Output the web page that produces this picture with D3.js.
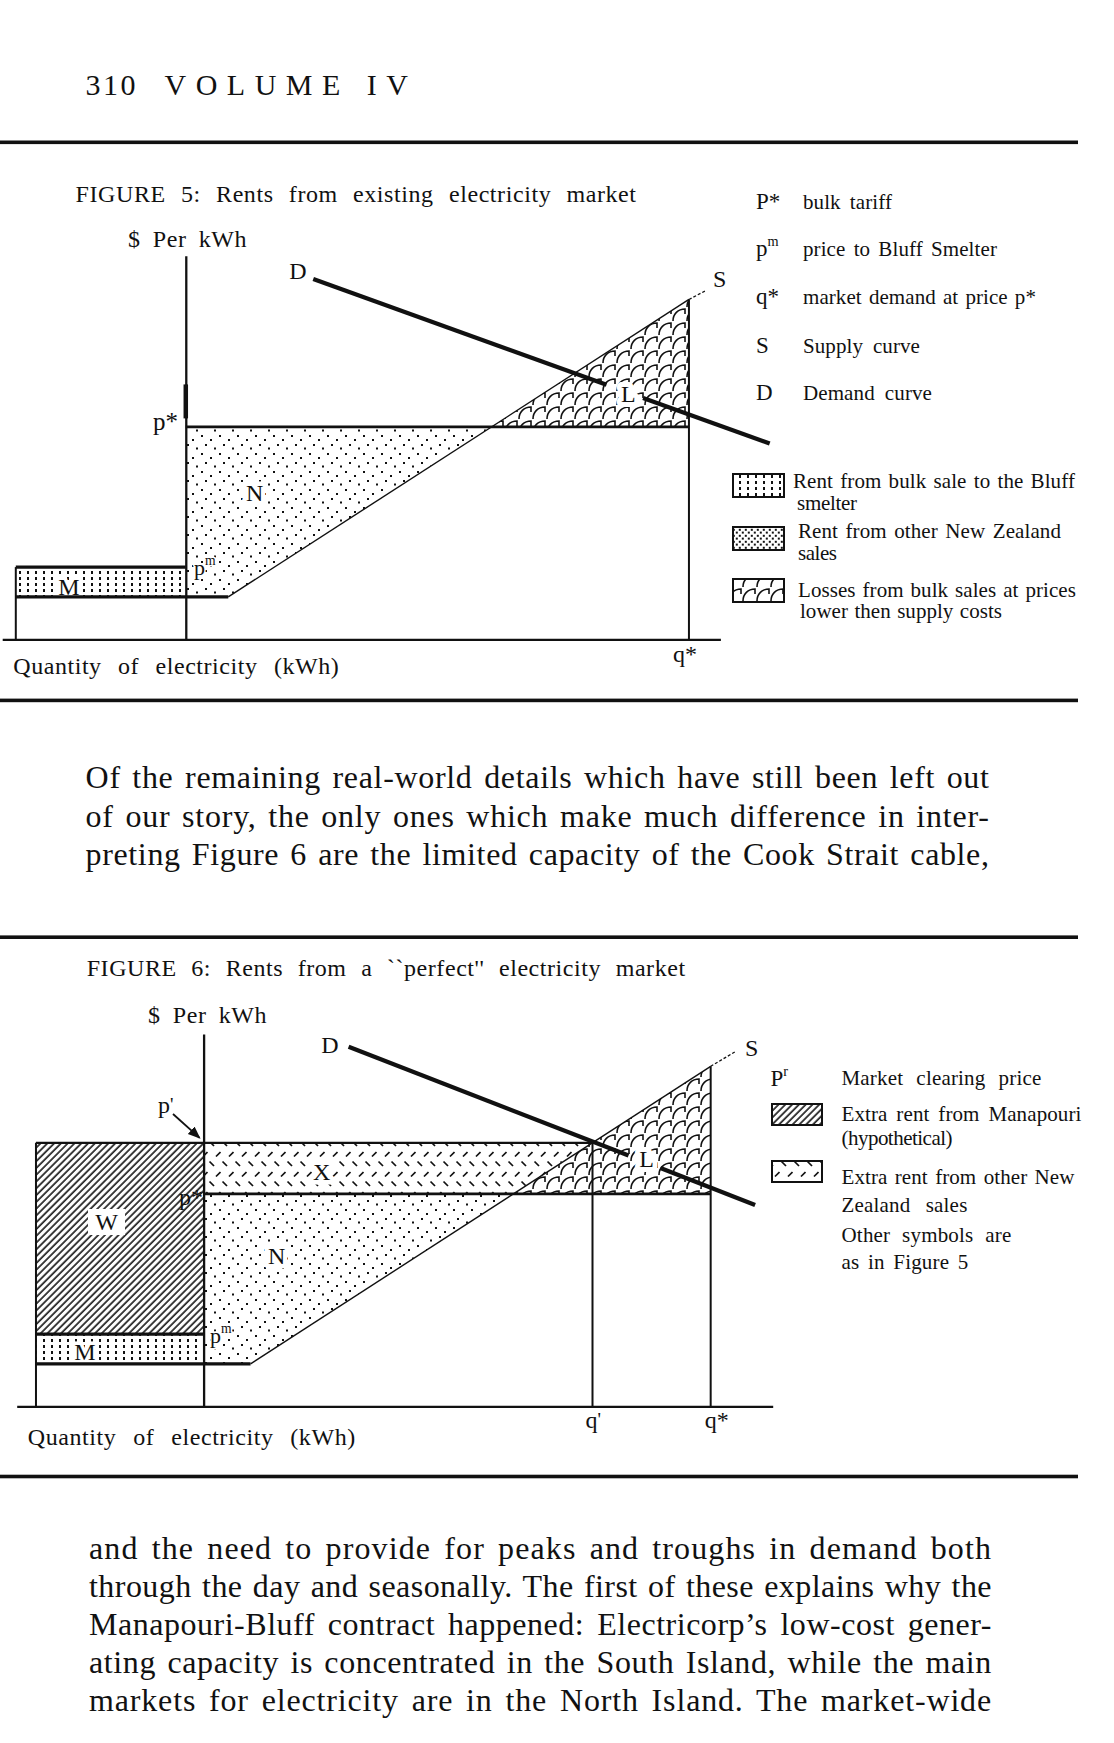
<!DOCTYPE html>
<html>
<head>
<meta charset="utf-8">
<script src="https://cdn.jsdelivr.net/npm/d3@7"></script>
<style>
  html, body { margin: 0; padding: 0; background: #fff; }
  svg text { font-family: "Liberation Serif", "DejaVu Serif", serif; fill: #111; }
</style>
</head>
<body>
<div id="page"></div>
<script>
const width = 1114, height = 1743;
const ink = '#111';

// ---------- page text ----------
const header = ['310', 'VOLUME IV'];
const para1 = [
  'Of the remaining real-world details which have still been left out',
  'of our story, the only ones which make much difference in inter-',
  'preting Figure 6 are the limited capacity of the Cook Strait cable,'
];
const para2 = [
  'and the need to provide for peaks and troughs in demand both',
  'through the day and seasonally. The first of these explains why the',
  'Manapouri-Bluff contract happened: Electricorp\u2019s low-cost gener-',
  'ating capacity is concentrated in the South Island, while the main',
  'markets for electricity are in the North Island. The market-wide'
];

// ---------- figure 5 values (quantity, price in diagram units) ----------
const fig5Title = 'FIGURE 5: Rents from existing electricity market';
const fig5QDomain = [-1.6, 82.9];
const fig5PDomain = [0, 90.3];
const fig5Bluff = [0, 20];              // smelter quantity: left edge, price axis
const fig5Prices = [10, 17, 50];        // p^m base, top of M, p*
const fig5QStar = 79.2;
const fig5Supply = [[25, 10], [79.2, 80]];
const fig5SupplyExt = [[79.2, 80], [81.1, 82]];
const fig5Demand = [[[35, 84.8], [69.5, 59.9]], [[73.8, 56.8], [88.7, 46.1]]];
const fig5Symbols = [['P*', ''], ['p', 'm'], ['q*', ''], ['S', ''], ['D', '']];
const fig5SymbolText = ['bulk tariff', 'price to Bluff Smelter', 'market demand at price p*', 'Supply curve', 'Demand curve'];
const fig5Keys = [
  ['Rent from bulk sale to the Bluff', 'smelter'],
  ['Rent from other New Zealand', 'sales'],
  ['Losses from bulk sales at prices', 'lower then supply costs']
];

// ---------- figure 6 values ----------
const fig6Title = 'FIGURE 6: Rents from a ``perfect\'\' electricity market';
const fig6QDomain = [-2.3, 87.9];
const fig6PDomain = [0, 87.6];
const fig6Bluff = [0, 20];
const fig6Prices = [10, 17, 50, 62];    // p^m base, top of M, p*, p'
const fig6QStar = 80.5;
const fig6QPrime = 66.4;
const fig6Supply = [[25.6, 10], [80.5, 80]];
const fig6SupplyExt = [[80.5, 80], [83.4, 83.4]];
const fig6Demand = [[[37.3, 84.6], [70.7, 59.0]], [[74.5, 56.1], [85.8, 47.4]]];
const fig6Keys = [
  ['Extra rent from Manapouri', '(hypothetical)'],
  ['Extra rent from other New', 'Zealand sales']
];
const fig6Notes = ['Other symbols are', 'as in Figure 5'];

const svg = d3.select('#page').append('svg')
  .attr('width', width)
  .attr('height', height);

svg.append('rect').attr('width', width).attr('height', height).attr('fill', '#fff');

// ---------- fill patterns ----------
const defs = svg.append('defs');

function pattern(id, w, h, draw, transform) {
  const p = defs.append('pattern')
    .attr('id', id)
    .attr('patternUnits', 'userSpaceOnUse')
    .attr('width', w)
    .attr('height', h);
  if (transform) p.attr('patternTransform', transform);
  p.append('rect').attr('width', w).attr('height', h).attr('fill', '#fff');
  draw(p);
}

function dot(p, x, y, s) {
  p.append('rect').attr('x', x).attr('y', y).attr('width', s).attr('height', s).attr('fill', ink);
}

// N: loose stipple
pattern('dots', 18, 18, p => {
  dot(p, 3, 3, 2); dot(p, 12, 7, 2); dot(p, 7, 12, 2); dot(p, 16, 15.5, 2);
});
// legend: dense stipple
pattern('dotsDense', 6, 6, p => {
  dot(p, 0.8, 0.8, 2); dot(p, 3.8, 3.6, 2);
});
// M: columns of short dashes
pattern('bulk', 8, 6, p => {
  p.append('rect').attr('x', 3).attr('y', 1).attr('width', 2).attr('height', 3).attr('fill', ink);
});
// W: diagonal hatch
pattern('hatch', 4.8, 10, p => {
  p.append('line').attr('x1', 2).attr('y1', 0).attr('x2', 2).attr('y2', 10)
    .attr('stroke', ink).attr('stroke-width', 1.6);
}, 'rotate(45)');
// X: small alternating ticks
pattern('ticks', 13, 20, p => {
  p.append('line').attr('x1', 1.5).attr('y1', 1.5).attr('x2', 6).attr('y2', 6)
    .attr('stroke', ink).attr('stroke-width', 1.7);
  p.append('line').attr('x1', 8).attr('y1', 16.5).attr('x2', 12.5).attr('y2', 12)
    .attr('stroke', ink).attr('stroke-width', 1.7);
});
// L: scale-like hooks
pattern('scales', 14, 14, p => {
  p.append('path').attr('d', 'M1,13 C1,6 6,1 13,1 L13,6')
    .attr('fill', 'none').attr('stroke', ink).attr('stroke-width', 1.6);
});

defs.append('marker')
  .attr('id', 'arrow')
  .attr('viewBox', '0 0 10 10')
  .attr('refX', 9).attr('refY', 5)
  .attr('markerWidth', 7).attr('markerHeight', 7)
  .attr('orient', 'auto')
  .append('path').attr('d', 'M0,1 L10,5 L0,9 Z').attr('fill', ink);

// ---------- helpers ----------
// stretch a line of text to a width: part of the slack goes between letters, the rest between words
function justify(t, target, share) {
  const s = t.text();
  const natural = t.node().getComputedTextLength();
  const spaces = (s.match(/ /g) || []).length;
  const extra = target - natural;
  if (!spaces) {
    t.attr('textLength', target).attr('lengthAdjust', 'spacing');
    return t;
  }
  const ls = extra * share / s.length;
  t.attr('letter-spacing', ls.toFixed(3));
  t.attr('word-spacing', ((extra - ls * s.length) / spaces).toFixed(3));
  return t;
}

function txt(parent, x, y, s, size, opts = {}) {
  const t = parent.append('text')
    .attr('x', x).attr('y', y)
    .attr('font-size', size)
    .text(s);
  if (opts.anchor) t.attr('text-anchor', opts.anchor);
  if (opts.halo) t.attr('stroke', '#fff').attr('stroke-width', opts.halo)
    .attr('stroke-linejoin', 'round').attr('paint-order', 'stroke');
  if (opts.spread) t.attr('textLength', opts.spread).attr('lengthAdjust', 'spacing');
  if (opts.len) justify(t, opts.len, opts.share === undefined ? 0.5 : opts.share);
  return t;
}

function supTxt(parent, x, y, base, sup, size, opts = {}) {
  const t = parent.append('text')
    .attr('x', x).attr('y', y)
    .attr('font-size', size);
  if (opts.anchor) t.attr('text-anchor', opts.anchor);
  if (opts.halo) t.attr('stroke', '#fff').attr('stroke-width', opts.halo)
    .attr('stroke-linejoin', 'round').attr('paint-order', 'stroke');
  t.append('tspan').text(base);
  if (sup) t.append('tspan')
    .attr('dy', -size * (opts.supRise === undefined ? 0.45 : opts.supRise))
    .attr('font-size', size * (opts.supSize || 0.62))
    .text(sup);
  return t;
}

function rule(y) {
  svg.append('rect').attr('x', 0).attr('y', y - 1.8).attr('width', 1078).attr('height', 3.6).attr('fill', ink);
}

// ---------- page furniture ----------
txt(svg, 85.6, 95, header[0], 30, { spread: 50 });
txt(svg, 164.5, 95, header[1], 30, { spread: 243.5 });
[142.3, 700.4, 937.2, 1476.5].forEach(rule);

para1.forEach((s, i) => txt(svg, 85.6, 788 + i * 38.5, s, 32, { len: 904, share: 0.6 }));
para2.forEach((s, i) => txt(svg, 89, 1559 + i * 38.1, s, 32, { len: 903, share: 0.6 }));

// ---------- diagram ----------
function drawFigure(cfg) {
  const x = d3.scaleLinear().domain(cfg.qDomain).range(cfg.xRange);
  const y = d3.scaleLinear().domain(cfg.pDomain).range(cfg.yRange);
  const line = d3.line().x(d => x(d[0])).y(d => y(d[1]));
  // supply curve read as price -> quantity
  const sQ = d3.scaleLinear()
    .domain(cfg.supply.map(d => d[1]))
    .range(cfg.supply.map(d => d[0]));

  const g = svg.append('g');
  const [pm, mTop, pStar, pPrime] = cfg.prices;
  const [q0, qAxis] = cfg.bluff;

  // shaded regions
  const regions = [
    { pts: [[q0, pm], [qAxis, pm], [qAxis, mTop], [q0, mTop]], fill: 'bulk' },
    { pts: [[qAxis, pStar], [sQ(pStar), pStar], cfg.supply[0], [qAxis, pm]], fill: 'dots' },
    { pts: [[sQ(pStar), pStar], [cfg.qStar, sQ.invert(cfg.qStar)], [cfg.qStar, pStar]], fill: 'scales' }
  ];
  if (pPrime !== undefined) {
    regions.push({ pts: [[q0, mTop], [qAxis, mTop], [qAxis, pPrime], [q0, pPrime]], fill: 'hatch' });
    regions.push({ pts: [[qAxis, pStar], [qAxis, pPrime], [sQ(pPrime), pPrime], [sQ(pStar), pStar]], fill: 'ticks' });
  }
  g.selectAll('path.region')
    .data(regions)
    .enter().append('path')
      .attr('class', 'region')
      .attr('d', d => line(d.pts) + 'Z')
      .attr('fill', d => `url(#${d.fill})`)
      .attr('stroke', 'none');

  // labels (their white halos only clear the fills)
  cfg.labels(g, x, y);

  // axes (no ticks, just the lines)
  const xAxisGroup = g.append('g')
    .attr('transform', `translate(0, ${y(0)})`)
    .call(d3.axisBottom(x).tickValues([]).tickSizeOuter(0));
  const yAxisGroup = g.append('g')
    .attr('transform', `translate(${x(qAxis)}, 0)`)
    .call(d3.axisLeft(y).tickValues([]).tickSizeOuter(0));
  [xAxisGroup, yAxisGroup].forEach(a => a.select('.domain')
    .attr('stroke', ink).attr('stroke-width', 2.3));

  // guide lines
  const guides = [
    { pts: [[q0, 0], [q0, pPrime !== undefined ? pPrime : mTop]], w: 2 },
    { pts: [[cfg.qStar, 0], [cfg.qStar, sQ.invert(cfg.qStar)]], w: 2 },
    { pts: [[qAxis, pStar], [cfg.qStar, pStar]], w: 2.6 },
    { pts: [[q0, mTop], [qAxis, mTop]], w: 3.2 },
    { pts: [[q0, pm], [cfg.supply[0][0], pm]], w: 3.2 },
    { pts: cfg.supply, w: 1.4 }
  ];
  if (pPrime !== undefined) {
    guides.push({ pts: [[q0, pPrime], [cfg.qPrime, pPrime]], w: 2.2 });
    guides.push({ pts: [[cfg.qPrime, 0], [cfg.qPrime, pPrime]], w: 2 });
  }
  if (cfg.axisMark) guides.push({ pts: cfg.axisMark, w: 4.5 });
  g.selectAll('path.guide')
    .data(guides)
    .enter().append('path')
      .attr('class', 'guide')
      .attr('d', d => line(d.pts))
      .attr('fill', 'none')
      .attr('stroke', ink)
      .attr('stroke-width', d => d.w);

  g.append('path')
    .attr('d', line(cfg.supplyExt))
    .attr('fill', 'none').attr('stroke', ink)
    .attr('stroke-width', 1.3).attr('stroke-dasharray', '3,2');

  if (cfg.overlay) cfg.overlay(g, x, y);

  // demand curve, broken around the L label
  g.selectAll('path.demand')
    .data(cfg.demand)
    .enter().append('path')
      .attr('class', 'demand')
      .attr('d', line)
      .attr('fill', 'none')
      .attr('stroke', ink)
      .attr('stroke-width', 4.3)
      .attr('stroke-linecap', 'butt');

  return { x, y };
}

// ---------- Figure 5 ----------
txt(svg, 75.6, 202, fig5Title, 24, { len: 561, share: 0.35 });

drawFigure({
  qDomain: fig5QDomain, pDomain: fig5PDomain,
  xRange: [2.2, 720.4], yRange: [639.3, 255.7],
  bluff: fig5Bluff, prices: fig5Prices, qStar: fig5QStar,
  supply: fig5Supply, supplyExt: fig5SupplyExt, demand: fig5Demand,
  axisMark: [[20, 52], [20, 60]],
  labels: (g, x, y) => {
    txt(g, 128, 246.5, '$ Per kWh', 24, { len: 119, share: 0.3 });
    txt(g, 298, 279, 'D', 24, { anchor: 'middle' });
    txt(g, 713, 287, 'S', 24);
    txt(g, 178, 430, 'p*', 25, { anchor: 'end' });
    txt(g, 254.6, 501, 'N', 24, { anchor: 'middle', halo: 9 });
    txt(g, 628.3, 402, 'L', 24, { anchor: 'middle', halo: 10 });
    txt(g, 69, 595, 'M', 24, { anchor: 'middle', halo: 7 });
    supTxt(g, 194, 575, 'p', 'm', 22, { halo: 3 });
    txt(g, 13.3, 674, 'Quantity of electricity (kWh)', 24, { len: 326, share: 0.35 });
    txt(g, x(fig5QStar) - 16, 662, 'q*', 24);
  }
});

// figure 5 legend
const fig5SymbolY = [209, 256, 304, 353, 400];
const fig5SymbolLen = [89, 194, 233, 117, 129];
fig5Symbols.forEach((s, i) => {
  supTxt(svg, 756, fig5SymbolY[i], s[0], s[1], 23);
  txt(svg, 803, fig5SymbolY[i], fig5SymbolText[i], 21, { len: fig5SymbolLen[i], share: 0.2 });
});

const fig5KeyTop = [474, 527, 579];
const fig5KeyFill = ['bulk', 'dotsDense', 'scales'];
const fig5KeyBase = [[488, 510], [538, 560], [597, 618]];
const fig5KeyX = [[793, 797], [798, 798], [798, 800]];
const fig5KeyLen = [[282, 60], [263, 39], [278, 202]];
fig5Keys.forEach((k, i) => {
  svg.append('rect')
    .attr('x', 733).attr('y', fig5KeyTop[i])
    .attr('width', 51).attr('height', 23)
    .attr('fill', `url(#${fig5KeyFill[i]})`)
    .attr('stroke', ink).attr('stroke-width', 2);
  k.forEach((s, j) => txt(svg, fig5KeyX[i][j], fig5KeyBase[i][j], s, 21, { len: fig5KeyLen[i][j], share: 0.2 }));
});

// ---------- Figure 6 ----------
txt(svg, 86.7, 976, fig6Title, 24, { len: 599, share: 0.35 });

drawFigure({
  qDomain: fig6QDomain, pDomain: fig6PDomain,
  xRange: [16.7, 772.7], yRange: [1406.4, 1034],
  bluff: fig6Bluff, prices: fig6Prices, qStar: fig6QStar, qPrime: fig6QPrime,
  supply: fig6Supply, supplyExt: fig6SupplyExt, demand: fig6Demand,
  labels: (g, x, y) => {
    txt(g, 148, 1022.5, '$ Per kWh', 24, { len: 119, share: 0.3 });
    txt(g, 330, 1053, 'D', 24, { anchor: 'middle' });
    txt(g, 745, 1056, 'S', 24);
    supTxt(g, 158, 1113, 'p', '\'', 24, { supSize: 0.8, supRise: 0.1 });
    g.append('rect').attr('x', 88).attr('y', 1209).attr('width', 37).attr('height', 26).attr('fill', '#fff');
    txt(g, 106.7, 1230, 'W', 24, { anchor: 'middle' });
    txt(g, 321.7, 1180, 'X', 24, { anchor: 'middle', halo: 9 });
    txt(g, 276.7, 1264, 'N', 24, { anchor: 'middle', halo: 9 });
    txt(g, 646.7, 1167, 'L', 24, { anchor: 'middle', halo: 10 });
    txt(g, 85, 1360, 'M', 24, { anchor: 'middle', halo: 7 });
    supTxt(g, 210, 1343, 'p', 'm', 22, { halo: 3 });
    txt(g, 27.8, 1445, 'Quantity of electricity (kWh)', 24, { len: 328, share: 0.35 });
    supTxt(g, x(fig6QPrime) - 7, 1428, 'q', '\'', 24, { supSize: 0.8, supRise: 0.1 });
    txt(g, x(fig6QStar) - 6, 1428, 'q*', 24);
  },
  overlay: (g, x, y) => {
    txt(g, 203, 1205, 'p*', 24, { anchor: 'end' });
    g.append('line')
      .attr('x1', 173).attr('y1', 1114)
      .attr('x2', x(fig6Bluff[1]) - 4).attr('y2', y(fig6Prices[3]) - 5)
      .attr('stroke', ink).attr('stroke-width', 1.8)
      .attr('marker-end', 'url(#arrow)');
  }
});

// figure 6 legend
supTxt(svg, 770.5, 1086, 'P', 'r', 23);
txt(svg, 841.5, 1085, 'Market clearing price', 21, { len: 200, share: 0.2 });
const fig6KeyTop = [1104, 1161];
const fig6KeyFill = ['hatch', 'ticks'];
const fig6KeyBase = [[1121, 1145], [1184, 1212]];
const fig6KeyLen = [[240, 111], [233, 126]];
fig6Keys.forEach((k, i) => {
  svg.append('rect')
    .attr('x', 772).attr('y', fig6KeyTop[i])
    .attr('width', 50).attr('height', 21)
    .attr('fill', `url(#${fig6KeyFill[i]})`)
    .attr('stroke', ink).attr('stroke-width', 2);
  k.forEach((s, j) => txt(svg, 841.5, fig6KeyBase[i][j], s, 21, { len: fig6KeyLen[i][j], share: 0.2 }));
});
const fig6NoteLen = [170, 127];
fig6Notes.forEach((s, i) => txt(svg, 841.5, 1242 + i * 26.5, s, 21, { len: fig6NoteLen[i], share: 0.2 }));
</script>
</body>
</html>
